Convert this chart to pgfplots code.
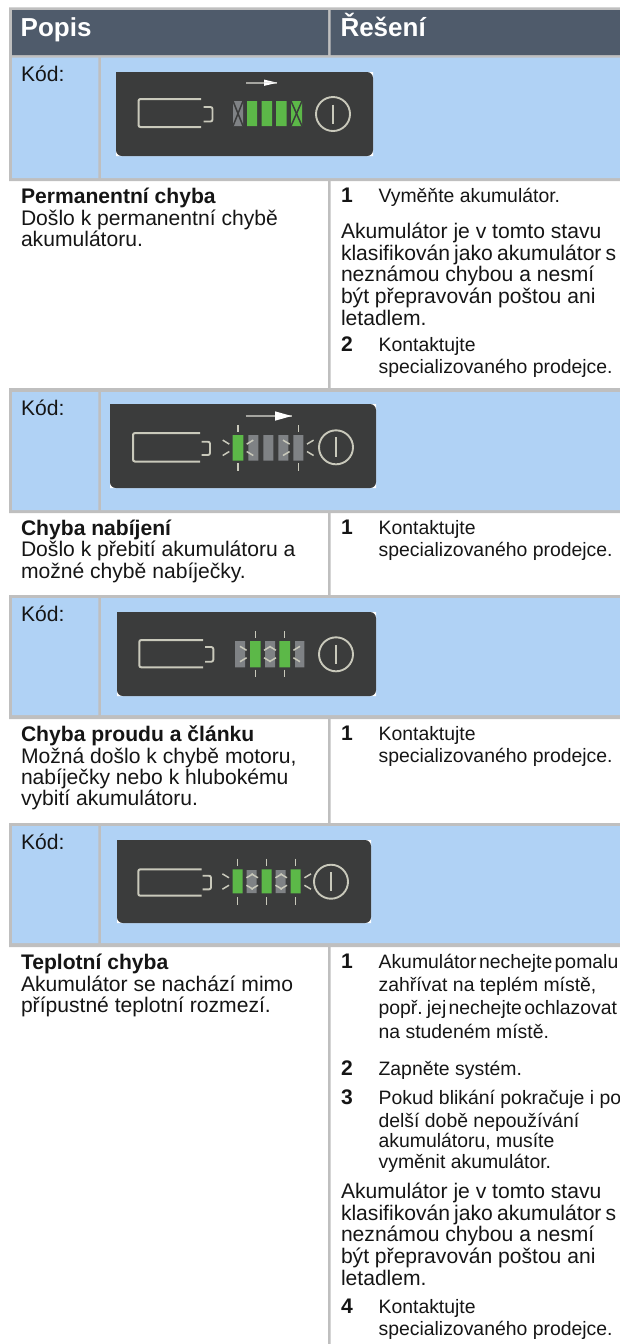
\documentclass[border=0pt]{standalone}
\usepackage{graphicx}
\usepackage{fontspec}
\setmainfont{Liberation Sans}
\usepackage{pgfplots}
\pgfplotsset{compat=1.18}
\definecolor{gr}{HTML}{BFBFBF}
\definecolor{bl}{HTML}{B0D2F5}
\definecolor{hd}{HTML}{4F5B6B}
\definecolor{ic}{HTML}{3B3C3C}
\definecolor{gn}{HTML}{5CB848}
\definecolor{ce}{HTML}{7F8285}
\definecolor{ln}{HTML}{C9C9BB}
\definecolor{ar}{HTML}{A5A5A0}
\definecolor{tx}{HTML}{151515}
\newcommand\R[5]{\addplot[fill=#1,draw=none,forget plot] coordinates {(#2,#3)(#4,#3)(#4,#5)(#2,#5)(#2,#3)};}
\newcommand\RR[5]{\addplot[fill=#1,draw=none,forget plot,rounded corners=6pt] coordinates {(#2,#3)(#4,#3)(#4,#5)(#2,#5)(#2,#3)};}
\newcommand\Seg[5][ln]{\addplot[color=#1,line width=1.5pt,forget plot,no markers] coordinates {(#2,#3)(#4,#5)};}
\newcommand\Open[4]{\addplot[color=ln,line width=2pt,forget plot,no markers,rounded corners=2pt] coordinates {(#3,#1)(#2,#1)(#2,#4)(#3,#4)};}
\newcommand\Term[4]{\addplot[color=ln,line width=1.9pt,forget plot,no markers,rounded corners=2pt] coordinates {(#1,#3)(#2,#3)(#2,#4)(#1,#4)};}
\newcommand\Pow[3]{\node[circle,draw=ln,line width=1.9pt,minimum size=34pt,inner sep=0pt] at (axis cs:#1,#2) {};
  \pgfmathsetmacro\pa{#2-#3}\pgfmathsetmacro\pb{#2+#3}
  \addplot[color=ln,line width=2.5pt,forget plot,no markers] coordinates {(#1,\pa)(#1,\pb)};}
\newcommand\Blink[2]{%
  \pgfmathsetmacro\la{#1-15.3}\pgfmathsetmacro\lb{#1-8.7}\pgfmathsetmacro\ra{#1+8.7}\pgfmathsetmacro\rb{#1+15.3}%
  \pgfmathsetmacro\ta{#2-23}\pgfmathsetmacro\tb{#2-15.6}\pgfmathsetmacro\ba{#2+15.6}\pgfmathsetmacro\bb{#2+23}%
  \pgfmathsetmacro\ua{#2-7.7}\pgfmathsetmacro\ub{#2-3.7}\pgfmathsetmacro\da{#2+3.7}\pgfmathsetmacro\db{#2+7.7}%
  \Seg{#1}{\ta}{#1}{\tb}\Seg{#1}{\ba}{#1}{\bb}%
  \Seg{\la}{\ua}{\lb}{\ub}\Seg{\la}{\db}{\lb}{\da}%
  \Seg{\rb}{\ua}{\ra}{\ub}\Seg{\rb}{\db}{\ra}{\da}}
\newcommand\Arrow[5]{\addplot[color=ar,line width=1.6pt,forget plot,no markers] coordinates {(#1,#3)(#2,#3)};
  \addplot[fill=white,draw=none,forget plot] coordinates {(#4,#5)(#2,#3)(#4,#3)(#4,#5)};}
\newcommand\T[3]{\node[anchor=base west,inner sep=0pt,outer sep=0pt,text=tx] at (axis cs:#1,#2) {\fontsize{21.1}{23}\selectfont #3};}
\newcommand\TB[3]{\node[anchor=base west,inner sep=0pt,outer sep=0pt,text=tx] at (axis cs:#1,#2) {\fontsize{21.1}{23}\selectfont\bfseries #3};}
\newcommand\TT[3]{\node[anchor=base west,inner sep=0pt,outer sep=0pt,text=tx] at (axis cs:#1,#2) {\fontsize{21.1}{23}\selectfont\spaceskip=0.2em #3};}
\newcommand\St[3]{\node[anchor=base west,inner sep=0pt,outer sep=0pt,text=tx] at (axis cs:#1,#2) {\fontsize{19.4}{21}\selectfont #3};}
\newcommand\StT[3]{\node[anchor=base west,inner sep=0pt,outer sep=0pt,text=tx] at (axis cs:#1,#2) {\fontsize{19.4}{21}\selectfont\spaceskip=0.12em #3};}
\newcommand\Hd[2]{\node[anchor=base west,inner sep=0pt,outer sep=0pt,text=white] at (axis cs:#1,36.7) {\fontsize{26}{28}\selectfont\bfseries #2};}
\begin{document}
\begin{tikzpicture}
\path[use as bounding box] (0,0) rectangle (620pt,-1344pt);
\begin{axis}[at={(0,0)},anchor=north west,hide axis,scale only axis,width=620pt,height=1344pt,
  xmin=0,xmax=620,ymin=0,ymax=1344,y dir=reverse,clip=false]
% frame and rows
\R{gr}{9}{7.3}{620}{58}
\R{hd}{12}{10}{328}{55}
\R{hd}{330.5}{10}{620}{55}
\R{gr}{9}{57.7}{620}{181}
\R{bl}{12}{57.7}{98.3}{178}
\R{bl}{101}{57.7}{620}{178}
\R{gr}{328}{181}{330.5}{388}
\R{gr}{9}{388}{620}{513}
\R{bl}{12}{392}{98.3}{510}
\R{bl}{101}{392}{620}{510}
\R{gr}{328}{513}{330.5}{595}
\R{gr}{9}{595}{620}{719}
\R{bl}{12}{598}{98.3}{715}
\R{bl}{101}{598}{620}{715}
\R{gr}{328}{719}{330.5}{823}
\R{gr}{9}{823}{620}{947}
\R{bl}{12}{826}{98.3}{943}
\R{bl}{101}{826}{620}{943}
\R{gr}{328}{947}{330.5}{1344}
% icon 1
\R{white}{116}{72}{373}{156}
\RR{ic}{116}{72}{373}{156}
\Open{99}{138.5}{201}{127}
\Term{203.5}{212.5}{107}{121.5}
\Pow{333}{114}{9.5}
\Arrow{246}{277}{82.7}{264}{79.5}
\addplot[fill=white,draw=none,forget plot] coordinates {(264,85.9)(277,82.7)(264,82.7)(264,85.9)};
\R{ce}{233}{101}{243}{126}
\Seg[ic]{233}{101}{243}{126}\Seg[ic]{243}{101}{233}{126}
\R{gn}{247}{101}{257}{126}
\R{gn}{261.7}{101}{272}{126}
\R{gn}{276}{101}{286.6}{126}
\R{gn}{291}{101}{302}{126}
\Seg[ic]{291}{101}{302}{126}\Seg[ic]{302}{101}{291}{126}
% icon 2
\R{white}{110}{404}{376}{488}
\RR{ic}{110}{404}{376}{488}
\Open{433}{133}{200}{461.5}
\Term{201.7}{210}{441.7}{455}
\Pow{336}{447.3}{10}
\Arrow{245.7}{291.7}{416}{275}{411.3}
\addplot[fill=white,draw=none,forget plot] coordinates {(275,420.7)(291.7,416)(275,416)(275,420.7)};
\R{ce}{248.3}{435}{258.3}{460.7}
\R{ce}{263.3}{435}{273.3}{460.7}
\R{ce}{278.3}{435}{288.3}{460.7}
\R{ce}{293.3}{435}{303.3}{460.7}
\R{gn}{232.7}{435}{243.3}{460.7}
\Blink{238}{447.8}
\Blink{298.3}{447.8}
% icon 3
\R{white}{117}{612}{376}{696}
\RR{ic}{117}{612}{376}{696}
\Open{640}{139.3}{203}{667.3}
\Term{205}{213.3}{647}{661.7}
\Pow{336}{654.3}{9.5}
\R{ce}{235}{641}{245}{667.3}
\R{ce}{265}{641}{275}{667.3}
\R{ce}{295}{641}{304.3}{667.3}
\R{gn}{250}{641}{260.7}{667.3}
\R{gn}{279.3}{641}{290}{667.3}
\Blink{255.3}{654}
\Blink{284.7}{654}
% icon 4
\R{white}{117}{840}{371}{923}
\RR{ic}{117}{840}{371}{923}
\Open{869.3}{138.3}{201.5}{895.7}
\Term{202.7}{211}{875.7}{889.3}
\Pow{331}{881.7}{9.5}
\R{ce}{246.7}{870}{256.7}{893}
\R{ce}{275.7}{870}{285.7}{893}
\R{gn}{232.7}{869.3}{242.7}{893.3}
\R{gn}{261.7}{869.3}{271.7}{893.3}
\R{gn}{290.7}{869.3}{300.7}{893.3}
\Blink{237.7}{881.5}
\Blink{266.7}{881.5}
\Blink{295.7}{881.5}
% header
\Hd{20.7}{Popis}
\Hd{340.5}{Řešení}
\T{21}{81}{Kód:}
\T{21}{415}{Kód:}
\T{21}{621}{Kód:}
\T{21}{849}{Kód:}
% row 1
\TB{21}{203.3}{Permanentní chyba}
\T{21}{225}{Došlo k permanentní chybě}
\T{21}{246.7}{akumulátoru.}
\TB{341}{202.3}{1}
\St{378.6}{202.3}{Vyměňte akumulátor.}
\T{341}{238.7}{Akumulátor je v tomto stavu}
\TT{341}{260.4}{klasifikován jako akumulátor s}
\T{341}{281.7}{neznámou chybou a nesmí}
\T{341}{303.2}{být přepravován poštou ani}
\T{341}{325}{letadlem.}
\TB{341}{351.7}{2}
\St{378.6}{351.7}{Kontaktujte}
\St{378.6}{373.3}{specializovaného prodejce.}
% row 2
\TB{21}{535}{Chyba nabíjení}
\T{21}{556.7}{Došlo k přebití akumulátoru a}
\T{21}{578}{možné chybě nabíječky.}
\TB{341}{534.5}{1}
\St{378.6}{534.5}{Kontaktujte}
\St{378.6}{556.5}{specializovaného prodejce.}
% row 3
\TB{21}{741.5}{Chyba proudu a článku}
\T{21}{763}{Možná došlo k chybě motoru,}
\T{21}{784.3}{nabíječky nebo k hlubokému}
\T{21}{805.5}{vybití akumulátoru.}
\TB{341}{740.5}{1}
\St{378.6}{740.5}{Kontaktujte}
\St{378.6}{762.5}{specializovaného prodejce.}
% row 4
\TB{21}{969.5}{Teplotní chyba}
\T{21}{991}{Akumulátor se nachází mimo}
\T{21}{1012.3}{přípustné teplotní rozmezí.}
\TB{341}{968.3}{1}
\StT{378.6}{968.3}{Akumulátor nechejte pomalu}
\St{378.6}{991}{zahřívat na teplém místě,}
\StT{378.6}{1014}{popř. jej nechejte ochlazovat}
\St{378.6}{1038}{na studeném místě.}
\TB{341}{1075}{2}
\St{378.6}{1075}{Zapněte systém.}
\TB{341}{1104}{3}
\St{378.6}{1104}{Pokud blikání pokračuje i po}
\St{378.6}{1127}{delší době nepoužívání}
\St{378.6}{1147}{akumulátoru, musíte}
\St{378.6}{1168}{vyměnit akumulátor.}
\T{341}{1198}{Akumulátor je v tomto stavu}
\TT{341}{1220}{klasifikován jako akumulátor s}
\T{341}{1241.5}{neznámou chybou a nesmí}
\T{341}{1263}{být přepravován poštou ani}
\T{341}{1285}{letadlem.}
\TB{341}{1313}{4}
\St{378.6}{1313}{Kontaktujte}
\St{378.6}{1335}{specializovaného prodejce.}
\end{axis}
\end{tikzpicture}
\end{document}
